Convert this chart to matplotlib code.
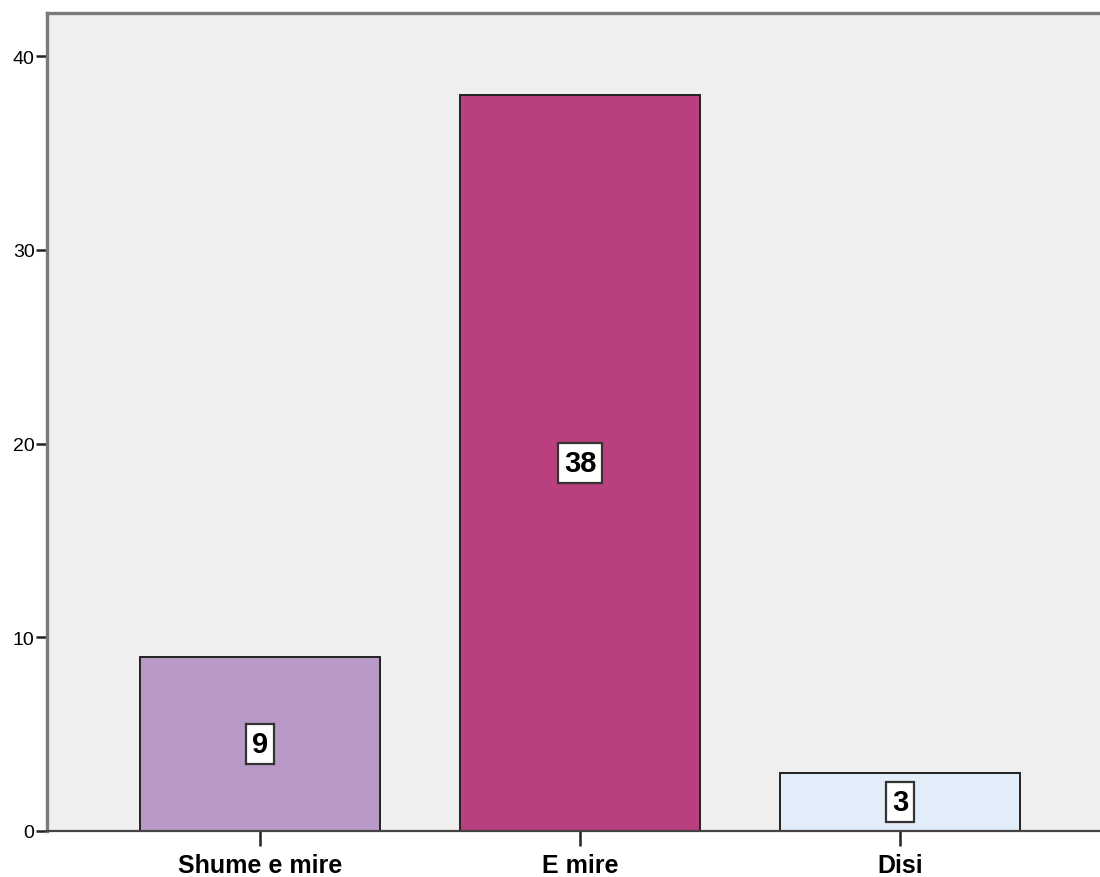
import matplotlib.pyplot as plt

categories = ["Shume e mire", "E mire", "Disi"]
counts = [9, 38, 3]
bar_colors = ["#B899C8", "#BA3F7E", "#E1EDF9"]
y_ticks = [0, 10, 20, 30, 40]

fig = plt.figure(figsize=(11, 8.78), dpi=100)
W, H = 1100, 878
left, right, top, bottom = 47, 1104, 14, 832
ax = fig.add_axes([left / W, (H - bottom) / H, (right - left) / W, (bottom - top) / H])
ax.set_facecolor("#EFEFEF")

x = list(range(len(categories)))
ax.bar(x, counts, width=0.75, color=bar_colors, edgecolor="#222222", linewidth=1.4, zorder=2)

for xi, v in zip(x, counts):
    ax.text(xi, v / 2, str(v), ha="center", va="center", fontsize=21, fontweight="bold",
            family="Liberation Sans", color="black", zorder=3,
            bbox=dict(boxstyle="square,pad=0.2", facecolor="white", edgecolor="#333333", linewidth=1.6))

ax.set_xlim(-0.666, (right - 260) / 320)
ax.set_ylim(0, (bottom - top) / 19.375)
ax.set_xticks(x)
ax.set_xticklabels(categories, fontsize=18, fontweight="bold", family="Liberation Sans")
ax.set_yticks(y_ticks)
ax.set_yticklabels([str(t) for t in y_ticks], fontsize=14, family="Liberation Sans")
ax.tick_params(axis="y", direction="out", length=8, width=1.8, color="#222222", pad=1)
ax.tick_params(axis="x", direction="out", length=11, width=1.8, color="#222222", pad=5)

for side in ["left", "top", "right"]:
    ax.spines[side].set_color("#7A7A7A")
    ax.spines[side].set_linewidth(2.4)
ax.spines["bottom"].set_color("#444444")
ax.spines["bottom"].set_linewidth(1.6)

fig.savefig("out.png", dpi=100)
